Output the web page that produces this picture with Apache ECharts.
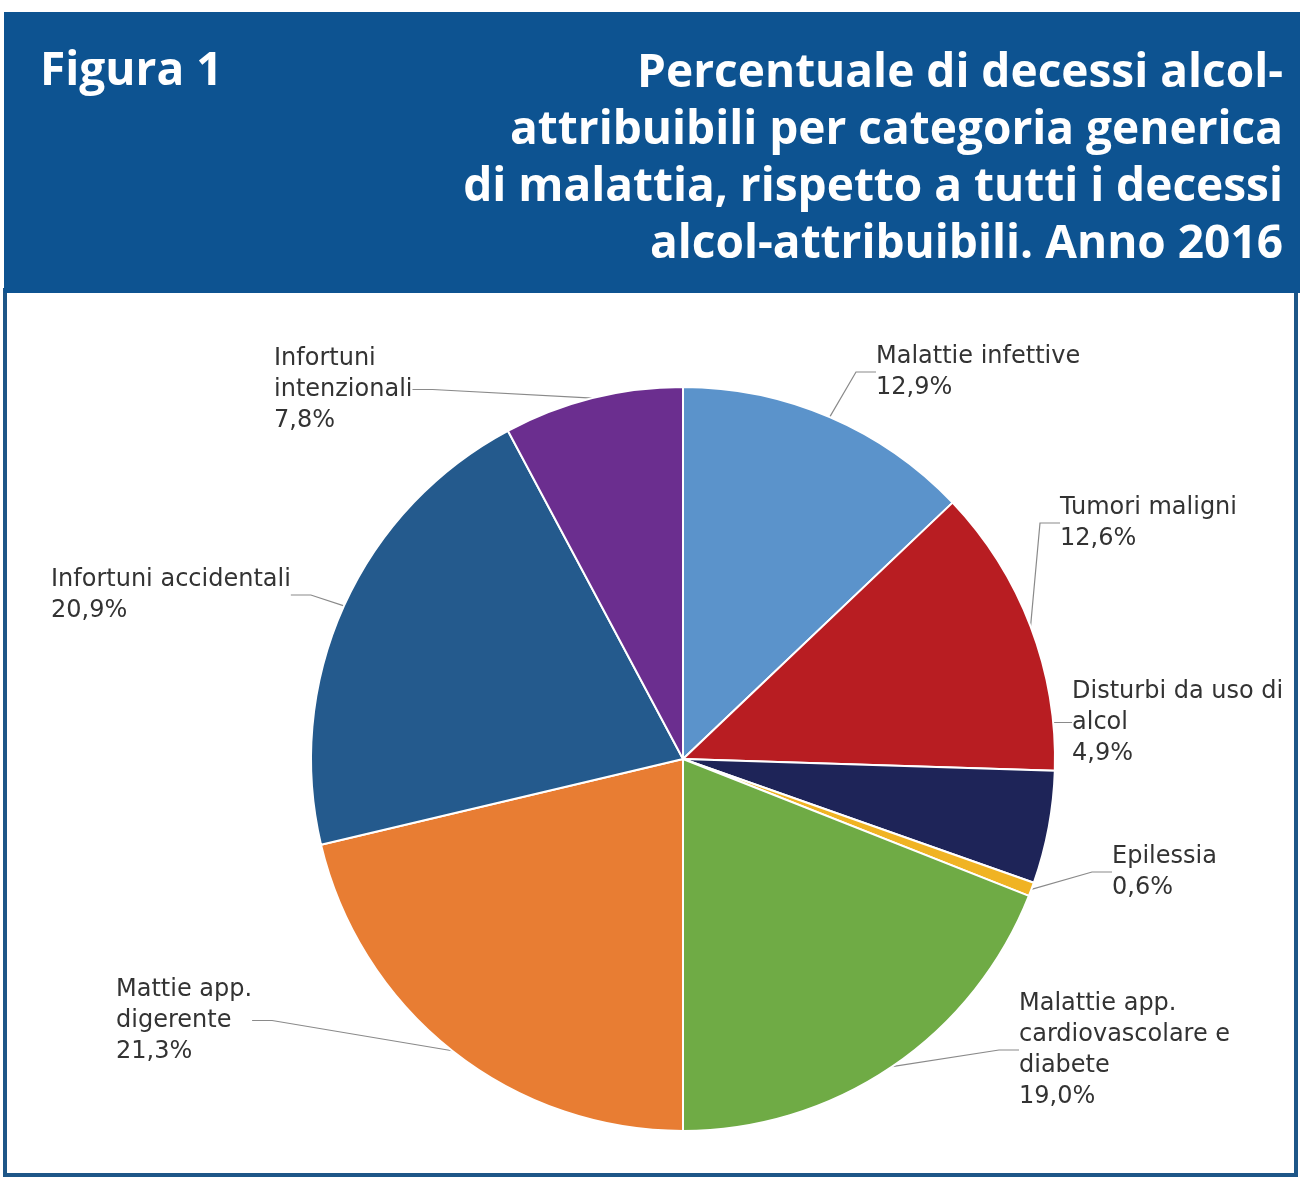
<!DOCTYPE html>
<html>
<head>
<meta charset="utf-8">
<script src="https://cdn.jsdelivr.net/npm/echarts@6/dist/echarts.min.js"></script>
<style>
html,body{margin:0;padding:0;background:#fff;}
#chart{width:1300px;height:1178px;}
</style>
</head>
<body>
<div id="chart"></div>
<script>
// ---- data ----
const categories = [
  "Malattie infettive",
  "Tumori maligni",
  "Disturbi da uso di\nalcol",
  "Epilessia",
  "Malattie app.\ncardiovascolare e\ndiabete",
  "Mattie app.\ndigerente",
  "Infortuni accidentali",
  "Infortuni\nintenzionali"
];
const values = [12.9, 12.6, 4.9, 0.6, 19.0, 21.3, 20.9, 7.8];
const figureLabel = "Figura 1";
const titleText = "Percentuale di decessi alcol-\nattribuibili per categoria generica\ndi malattia, rispetto a tutti i decessi\nalcol-attribuibili. Anno 2016";

// ---- presentation ----
const colors = ["#5b93cb", "#b81d22", "#1e2458", "#f0b323", "#6fab45", "#e87d33", "#245a8d", "#6b2e8f"];
const labelTopLeft = [
  [876, 341], [1060, 492], [1072, 676], [1112, 841],
  [1019, 988], [116, 974], [51, 564], [274, 343]
];

const chart = echarts.init(document.getElementById('chart'), null, {renderer: 'canvas'});
chart.setOption({
  animation: false,
  backgroundColor: '#ffffff',
  graphic: [
    {type: 'rect', z: 0, shape: {x: 5, y: 290, width: 1291, height: 885},
     style: {fill: '#ffffff', stroke: '#1d5688', lineWidth: 4}},
    {type: 'rect', z: 1, shape: {x: 4, y: 12, width: 1296, height: 281},
     style: {fill: '#0d5391'}},
    {type: 'text', z: 2, x: 40, y: 46,
     style: {text: figureLabel, fill: '#ffffff', fontFamily: 'Open Sans', fontWeight: 'bold',
             fontSize: 46, lineHeight: 52, align: 'left', verticalAlign: 'top'}},
    {type: 'text', z: 2, x: 1283, y: 45,
     style: {text: titleText, fill: '#ffffff', fontFamily: 'Open Sans', fontWeight: 'bold',
             fontSize: 46, lineHeight: 57, align: 'right', verticalAlign: 'top'}}
  ],
  series: [{
    type: 'pie',
    center: [683, 759],
    radius: 372,
    startAngle: 90,
    clockwise: true,
    avoidLabelOverlap: false,
    itemStyle: {borderColor: '#ffffff', borderWidth: 2},
    label: {
      show: true,
      position: 'outside',
      fontFamily: '"DejaVu Sans", Verdana, sans-serif',
      fontSize: 24,
      lineHeight: 31,
      color: '#333333',
      formatter: p => p.name + '\n' + p.value.toFixed(1).replace('.', ',') + '%'
    },
    labelLine: {show: true, length: 15, length2: 20, lineStyle: {color: '#8a8a8a', width: 1.2}},
    labelLayout: function (params) {
      const pos = labelTopLeft[params.dataIndex];
      return {x: pos[0], y: pos[1], align: 'left', verticalAlign: 'top'};
    },
    data: categories.map((c, i) => ({name: c, value: values[i], itemStyle: {color: colors[i]}}))
  }]
});
</script>
</body>
</html>
